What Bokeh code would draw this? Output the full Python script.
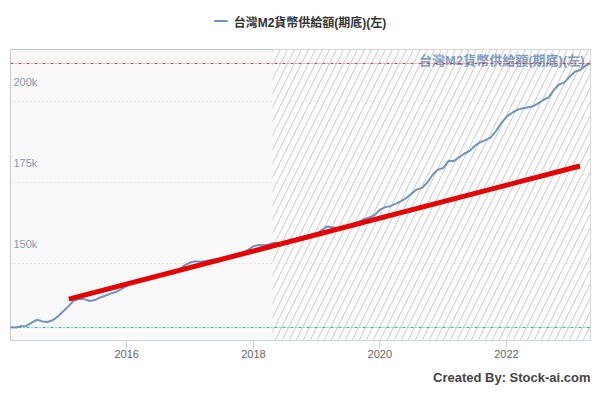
import pandas as pd
from bokeh.plotting import figure
from bokeh.layouts import column
from bokeh.models import (FixedTicker, DatetimeTickFormatter, BoxAnnotation, Span,
                          Legend, LegendItem, Grid, Range1d, Title)
from bokeh.core.properties import value
from bokeh.embed import file_html
from bokeh.resources import INLINE

# ---------------- data ----------------
series_name = "台灣M2貨幣供給額(期底)(左)"
start_month = "2014-03-01"
# monthly values (thousands), 2014-03 .. 2023-05
m2_values = [
    130.2, 130.1, 130.5, 130.6, 131.6, 132.5, 132.0, 131.8, 132.4, 133.6,
    135.2, 136.8, 138.4, 139.0, 138.9, 138.3, 138.6, 139.4, 140.0, 140.6,
    141.1, 142.0, 143.0, 144.2, 144.5, 145.0, 144.9, 145.3, 145.8, 146.4,
    146.6, 146.8, 148.0, 149.4, 150.2, 150.6, 150.4, 150.7, 151.0, 151.2,
    151.3, 151.5, 151.8, 152.4, 153.2, 154.1, 155.2, 155.6, 155.5, 155.8,
    156.3, 156.1, 156.2, 156.7, 157.0, 157.1, 157.5, 158.0, 159.0, 160.3,
    161.3, 161.1, 160.8, 161.0, 161.6, 162.1, 162.7, 163.6, 164.1, 164.8,
    166.5, 167.3, 167.6, 168.3, 169.1, 170.1, 171.4, 172.8, 173.3, 174.9,
    177.3, 178.9, 179.4, 181.6, 181.5, 182.6, 183.8, 184.6, 186.2, 187.3,
    188.0, 188.8, 190.8, 193.2, 195.2, 196.4, 197.3, 197.8, 198.1, 198.4,
    199.3, 200.4, 201.2, 203.5, 205.2, 205.8, 207.6, 209.2, 209.6, 211.0,
    211.7,
]
trend_dates = ["2015-02-01", "2023-03-01"]
trend_values = [138.9, 180.0]
hatch_start = "2018-04-21"
y_ticks = [150, 175, 200]
y_tick_labels = ["150k", "175k", "200k"]
x_tick_years = [2016, 2018, 2020, 2022]
credit_text = "Created By: Stock-ai.com"

months = list(pd.date_range(start_month, periods=len(m2_values), freq="MS"))
trend_x = list(pd.to_datetime(trend_dates))

FONT = "Liberation Sans, Noto Sans CJK TC"
BLUE = "#7094bf"

# ---------------- legend strip ----------------
lg = figure(width=595, height=41, output_backend="svg", toolbar_location=None,
            x_axis_location=None, y_axis_location=None, min_border=0,
            x_range=Range1d(0, 1), y_range=Range1d(0, 1))
lg.outline_line_color = None
lg.background_fill_color = "white"
lg.xgrid.visible = False
lg.ygrid.visible = False
# the series itself lies outside this strip's ranges; it only feeds the legend glyph
lg_line = lg.line(x=list(range(len(m2_values))), y=m2_values, line_color=BLUE, line_width=2)
legend = Legend(items=[LegendItem(label=series_name, renderers=[lg_line])], location="center",
                orientation="horizontal", border_line_color=None, background_fill_alpha=0,
                padding=0, margin=0, glyph_width=14, glyph_height=14, label_height=14,
                label_standoff=6, label_text_font=FONT, label_text_font_size="12px",
                label_text_font_style="bold", label_text_color="#333333")
lg.add_layout(legend)

# ---------------- main chart ----------------
p = figure(width=595, height=352, x_axis_type="datetime", y_axis_location=None,
           output_backend="svg", toolbar_location=None,
           x_range=Range1d(months[0], months[-1]), y_range=Range1d(126.1, 216.0),
           min_border_left=10, min_border_right=5, min_border_top=8, min_border_bottom=53)

p.background_fill_color = "#f9f9f9"
p.border_fill_color = "white"
p.outline_line_color = "#cccccc"

# hatched region
p.add_layout(BoxAnnotation(left=pd.Timestamp(hatch_start), fill_color="white", fill_alpha=1,
                           hatch_pattern="/", hatch_color="#cccccc", hatch_alpha=1,
                           hatch_scale=14, hatch_weight=1, line_color=None, level="underlay"))

# grids
p.xgrid.visible = False
for g in p.ygrid:
    g.visible = False
p.add_layout(Grid(dimension=1, ticker=FixedTicker(ticks=y_ticks), grid_line_color="#d4d4d4",
                  grid_line_dash="1 3", grid_line_width=1))

# max / min lines
p.add_layout(Span(location=max(m2_values), dimension="width", line_color="#cc3333",
                  line_dash="3 2 1 2", line_width=1))
p.add_layout(Span(location=min(m2_values), dimension="width", line_color="#22b0a4",
                  line_dash="3 2 1 2", line_width=1))

p.line(months, m2_values, line_color=BLUE, line_width=2)
p.line(trend_x, trend_values, line_color="#e60000", line_width=5)

# y tick labels inside plot
p.text(x=[months[0]] * len(y_ticks), y=y_ticks, text=y_tick_labels, x_offset=3, y_offset=-19,
       text_baseline="middle", text_align="left", text_font=value("Liberation Sans"),
       text_font_size="11px", text_color="#7f99b5")

# max label
p.text(x=[months[m2_values.index(max(m2_values))]], y=[max(m2_values)], text=[series_name],
       x_offset=-6, y_offset=-3, text_align="right", text_baseline="middle",
       text_font=value(FONT), text_font_size="13px", text_font_style="bold",
       text_color="#7b9bc8")

# x axis
p.xaxis.ticker = FixedTicker(ticks=[pd.Timestamp(f"{y}-01-01").value / 1e6 for y in x_tick_years])
p.xaxis.formatter = DatetimeTickFormatter(days="%Y", months="%Y", years="%Y")
p.xaxis.axis_line_color = "#ccd6eb"
p.xaxis.major_tick_line_color = "#ccd6eb"
p.xaxis.major_tick_out = 8
p.xaxis.major_tick_in = 0
p.xaxis.minor_tick_out = 0
p.xaxis.minor_tick_in = 0
p.xaxis.major_label_text_color = "#666666"
p.xaxis.major_label_text_font = "Liberation Sans"
p.xaxis.major_label_text_font_size = "11px"
p.xaxis.major_label_standoff = 1

# credits
p.add_layout(Title(text=credit_text, align="right", text_font=FONT, text_font_size="13px",
                   text_font_style="bold", text_color="#444444", standoff=14), "below")

layout = column(lg, p, spacing=0)
open("out.html", "w").write(file_html(layout, INLINE))
